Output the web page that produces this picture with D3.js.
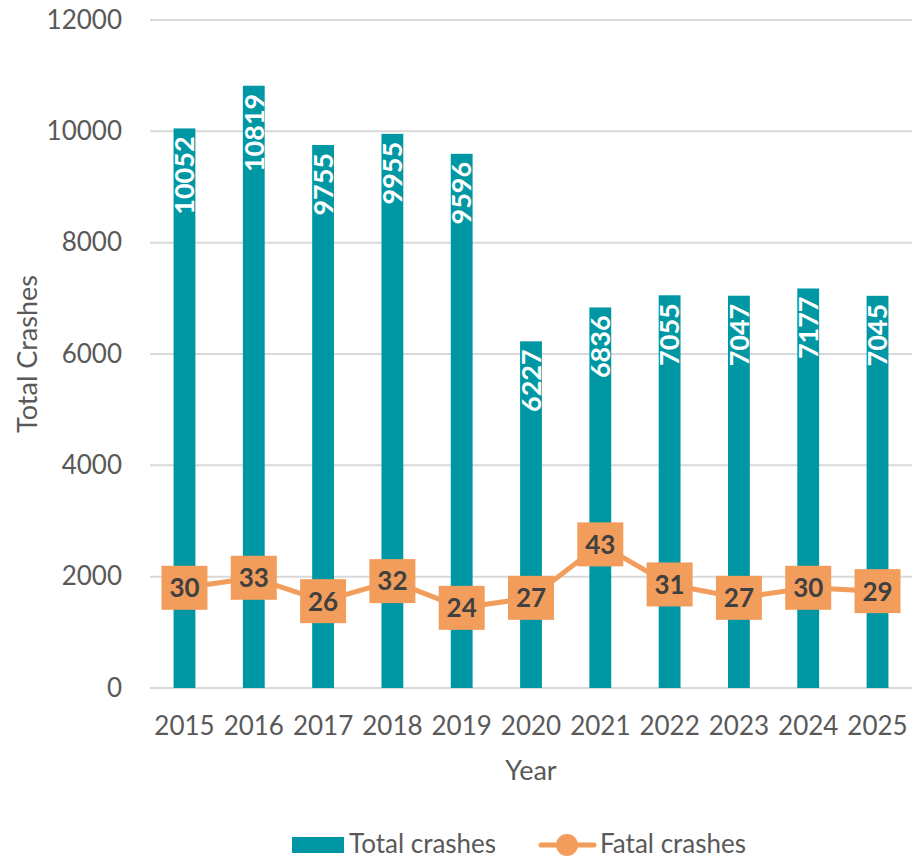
<!DOCTYPE html>
<html>
<head>
<meta charset="utf-8">
<script src="https://cdn.jsdelivr.net/npm/d3@7"></script>
<style>
  body { margin: 0; background: #fff; }
  text { font-family: Lato, "Open Sans", sans-serif; }
</style>
</head>
<body>
<script>
// data
var years = ["2015","2016","2017","2018","2019","2020","2021","2022","2023","2024","2025"];
var totalCrashes = [10052,10819,9755,9955,9596,6227,6836,7055,7047,7177,7045];
var fatalCrashes = [30,33,26,32,24,27,43,31,27,30,29];
var yTicks = [0,2000,4000,6000,8000,10000,12000];

var width = 914, height = 860;
var margins = {top:20, bottom:172, left:150, right:2};

var svg = d3.select("body").append("svg")
  .attr("width", width)
  .attr("height", height);

var xScale = d3.scaleBand()
  .domain(years)
  .range([margins.left, width - margins.right])
  .paddingInner(0.685)
  .paddingOuter(0.34);

var yScale = d3.scaleLinear()
  .domain([0,12000])
  .range([height - margins.bottom, margins.top]);

// fatal crashes on a hidden secondary axis
var y2Scale = d3.scaleLinear()
  .domain([0,200])
  .range([height - margins.bottom, margins.top]);

var cx = function(d){ return xScale(d) + xScale.bandwidth()/2; };

// gridlines
svg.append("g")
  .selectAll("line")
  .data(yTicks)
  .enter().append("line")
  .attr("x1", margins.left)
  .attr("x2", width - margins.right)
  .attr("y1", function(d){ return yScale(d); })
  .attr("y2", function(d){ return yScale(d); })
  .attr("stroke", "#d9d9d9")
  .attr("stroke-width", 2);

// y axis labels
var yAxis = d3.axisLeft(yScale).tickValues(yTicks).tickFormat(d3.format("d")).tickSize(0).tickPadding(28);
var gy = svg.append("g")
  .attr("transform", "translate(" + margins.left + ",0)")
  .call(yAxis);
gy.select(".domain").remove();
gy.selectAll("text")
  .attr("font-size", 26)
  .attr("fill", "#595959")
  .style("font-family", "Lato, 'Open Sans', sans-serif");

// x axis labels
var xAxis = d3.axisBottom(xScale).tickSize(0).tickPadding(29);
var gx = svg.append("g")
  .attr("transform", "translate(0," + yScale(0) + ")")
  .call(xAxis);
gx.select(".domain").remove();
gx.selectAll("text")
  .attr("font-size", 26)
  .attr("fill", "#595959")
  .style("font-family", "Lato, 'Open Sans', sans-serif");

// bars
svg.append("g")
  .selectAll("rect")
  .data(totalCrashes)
  .enter().append("rect")
  .attr("x", function(d,i){ return xScale(years[i]); })
  .attr("width", xScale.bandwidth())
  .attr("y", function(d){ return yScale(d); })
  .attr("height", function(d){ return yScale(0) - yScale(d); })
  .attr("fill", "#0097a4");

// bar labels
svg.append("g")
  .selectAll("text")
  .data(totalCrashes)
  .enter().append("text")
  .attr("transform", function(d,i){
    return "translate(" + cx(years[i]) + "," + (yScale(d) + 8) + ") rotate(-90)";
  })
  .attr("text-anchor", "end")
  .attr("dy", "0.36em")
  .attr("font-size", 27)
  .attr("font-weight", "bold")
  .attr("fill", "#ffffff")
  .text(function(d){ return d; });

// fatal line
var line = d3.line()
  .x(function(d,i){ return cx(years[i]); })
  .y(function(d){ return y2Scale(d); });

svg.append("path")
  .datum(fatalCrashes)
  .attr("d", line)
  .attr("fill", "none")
  .attr("stroke", "#f39d5c")
  .attr("stroke-width", 5)
  .attr("stroke-linejoin", "round");

// label boxes
var boxW = 46, boxH = 44;
var labels = svg.append("g")
  .selectAll("g")
  .data(fatalCrashes)
  .enter().append("g")
  .attr("transform", function(d,i){
    return "translate(" + cx(years[i]) + "," + y2Scale(d) + ")";
  });
labels.append("rect")
  .attr("x", -boxW/2)
  .attr("y", -boxH/2)
  .attr("width", boxW)
  .attr("height", boxH)
  .attr("fill", "#f39d5c");
labels.append("text")
  .attr("text-anchor", "middle")
  .attr("dy", "0.36em")
  .attr("font-size", 26)
  .attr("font-weight", "bold")
  .attr("fill", "#404040")
  .text(function(d){ return d; });

// axis titles
svg.append("text")
  .attr("x", (margins.left + width - margins.right)/2)
  .attr("y", 780)
  .attr("text-anchor", "middle")
  .attr("font-size", 27)
  .attr("fill", "#595959")
  .text("Year");

svg.append("text")
  .attr("transform", "translate(37," + (yScale(6000)) + ") rotate(-90)")
  .attr("text-anchor", "middle")
  .attr("font-size", 27)
  .attr("fill", "#595959")
  .text("Total Crashes");

// legend
var legend = svg.append("g");
legend.append("rect")
  .attr("x", 292).attr("y", 837)
  .attr("width", 52).attr("height", 16)
  .attr("fill", "#0097a4");
legend.append("text")
  .attr("x", 349).attr("y", 853)
  .attr("font-size", 26)
  .attr("fill", "#595959")
  .text("Total crashes");
legend.append("line")
  .attr("x1", 541).attr("x2", 594)
  .attr("y1", 845).attr("y2", 845)
  .attr("stroke", "#f39d5c")
  .attr("stroke-width", 5)
  .attr("stroke-linecap", "round");
legend.append("circle")
  .attr("cx", 567).attr("cy", 845).attr("r", 11)
  .attr("fill", "#f39d5c");
legend.append("text")
  .attr("x", 600).attr("y", 853)
  .attr("font-size", 26)
  .attr("fill", "#595959")
  .text("Fatal crashes");
</script>
</body>
</html>
